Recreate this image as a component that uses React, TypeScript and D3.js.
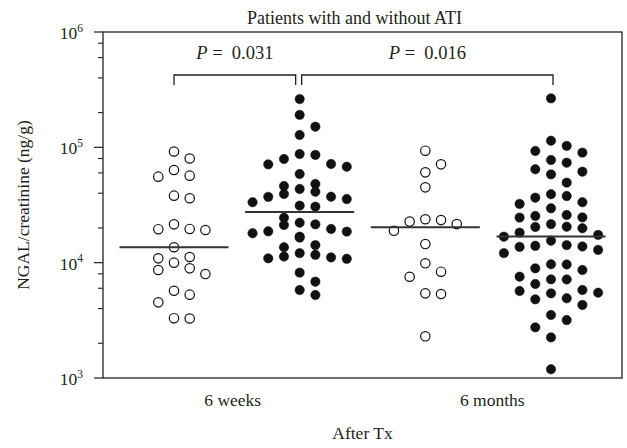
import React from 'react';
import * as d3 from 'd3';

// ---- data ----
const groupNames = ['6 weeks, without ATI', '6 weeks, with ATI', '6 months, without ATI', '6 months, with ATI'];
const groupFilled = [false, true, false, true];
const timepoints = ['6 weeks', '6 months'];

const weeks6NoAti = [92000, 80000, 63600, 55700, 56800, 38100, 36200, 19600, 19200, 19500, 21500, 13600,
  10900, 11200, 10000, 8930, 7970, 8640, 5710, 5280, 4530, 3300, 3280];
const weeks6Ati = [262000, 191000, 151000, 128000, 79200, 87500, 71200, 85900, 67900, 71700, 58700,
  43500, 39400, 48100, 37300, 31200, 35600, 37200, 30600, 41200, 33400, 46200, 24500, 22200,
  19600, 18600, 21500, 16800, 16500, 18000, 18700, 21200, 14200, 13600, 11100, 12100, 10900,
  11300, 11700, 10800, 8190, 6840, 5240, 5790];
const months6NoAti = [93500, 71200, 60700, 45000, 23800, 21600, 22700, 23400, 18900, 14500, 9870, 8350,
  7550, 5420, 5350, 2300];
const months6Ati = [266000, 114000, 103000, 89900, 92900, 77600, 73600, 61500, 58300, 64500, 49400,
  37800, 36600, 39200, 33400, 32300, 29600, 24700, 25400, 25900, 24600, 20500, 19900, 18200,
  20400, 21600, 17400, 16800, 15500, 14200, 12100, 13800, 12900, 13700, 14000, 8640, 9680, 8930,
  9650, 7560, 7170, 6530, 7150, 5680, 5420, 4810, 4300, 4910, 5490, 5790, 3520, 3180, 2750, 2250, 1190];
const groupValues = [weeks6NoAti, weeks6Ati, months6NoAti, months6Ati];
const medians = [13600, 27500, 20300, 16900];

const yMajorTicks = [1e3, 1e4, 1e5, 1e6];
const yMinorMultipliers = [2, 4, 6, 8];
const comparisons: [number, number][] = [[0, 1], [1, 3]];
const pValues = ['0.031', '0.016'];

const titleText = 'Patients with and without ATI';
const yTitle = 'NGAL/creatinine (ng/g)';
const xTitle = 'After Tx';

// ---- layout ----
const W = 627, H = 448;
const M = { left: 103, right: 622, top: 32, bottom: 378 };
const FONT = '"Liberation Serif", "Times New Roman", Times, serif';
const INK = '#231f20';

// row-based scatter layout (points of similar height spread sideways in fixed columns)
function swarm(values: number[], cx: number, y: (v: number) => number, step: number, rowH: number) {
  const items = values.map((v, i) => ({ i, y: y(v) })).sort((a, b) => a.y - b.y);
  const out: { x: number; y: number }[] = new Array(values.length);
  const offs = [0, 1, -1, 2, -2, 3, -3];
  let row: { i: number; y: number }[] = [];
  const flush = () => {
    row.forEach((p, k) => { out[p.i] = { x: cx + offs[k % offs.length] * step, y: p.y }; });
    row = [];
  };
  for (const it of items) {
    if (row.length && it.y - row[0].y >= rowH) flush();
    row.push(it);
  }
  flush();
  return out;
}

export default function App() {
  const y = d3.scaleLog().domain([1e3, 1e6]).range([M.bottom, M.top]);
  const x = d3.scalePoint<string>().domain(groupNames).range([M.left, M.right]).padding(0.565);
  const xCat = d3.scalePoint<string>().domain(timepoints).range([M.left, M.right]).padding(0.5);

  const minorTicks: number[] = [];
  for (let d = 1e3; d < 1e6; d *= 10) yMinorMultipliers.forEach(m => minorTicks.push(d * m));

  const r = 4.7;
  const bracketY = 75, legY = 85;

  return (
    <svg width={W} height={H} style={{ position: 'absolute', left: 0, top: 0, background: '#fff', fontFamily: FONT }}>
      <rect x={0} y={0} width={W} height={H} fill="#fff" />
      <text x={(M.left + M.right) / 2 - 8} y={24} textAnchor="middle" fontSize={18} fill={INK}>{titleText}</text>

      {/* frame */}
      <rect x={M.left} y={M.top} width={M.right - M.left} height={M.bottom - M.top} fill="none"
        stroke="#333" strokeWidth={1.4} />

      {/* y ticks */}
      {yMajorTicks.map((t, i) => (
        <g key={'mj' + i}>
          <line x1={M.left - 9} x2={M.left} y1={y(t)} y2={y(t)} stroke={INK} strokeWidth={1.2} />
          <text x={M.left - 20} y={y(t) + 7} textAnchor="end" fontSize={17.5} fill={INK}>
            10
            <tspan fontSize={11.5} dy={-7.5}>{String(Math.round(Math.log10(t)))}</tspan>
          </text>
        </g>
      ))}
      {minorTicks.map((t, i) => (
        <line key={'mn' + i} x1={M.left - 5} x2={M.left} y1={y(t)} y2={y(t)} stroke={INK} strokeWidth={1.1} />
      ))}

      {/* dots */}
      {groupValues.map((vals, g) => {
        const cx = x(groupNames[g]) as number;
        const pts = swarm(vals, cx, y, 15.7, 14);
        return (
          <g key={'g' + g}>
            {pts.map((p, i) => (
              <circle key={i} cx={p.x} cy={p.y} r={r}
                fill={groupFilled[g] ? '#111' : '#fff'} stroke="#111" strokeWidth={groupFilled[g] ? 0.5 : 1.2} />
            ))}
          </g>
        );
      })}

      {/* medians */}
      {medians.map((m, g) => {
        const cx = x(groupNames[g]) as number;
        return <line key={'md' + g} x1={cx - 54.5} x2={cx + 54.5} y1={y(m)} y2={y(m)} stroke="#333" strokeWidth={2} />;
      })}

      {/* significance brackets */}
      {comparisons.map(([a, b], i) => {
        const xa = (x(groupNames[a]) as number) + (i === 0 ? 0 : 2);
        const xb = (x(groupNames[b]) as number) + (i === 0 ? -4 : 2);
        return (
          <g key={'br' + i}>
            <path d={`M${xa},${legY}V${bracketY}H${xb}V${legY}`} fill="none" stroke={INK} strokeWidth={1.3} />
            <text x={(xa + xb) / 2} y={bracketY - 16} textAnchor="middle" fontSize={18.5} fill={INK}
              style={{ whiteSpace: 'pre' }}>
              <tspan fontStyle="italic">P</tspan>{' =  '}{pValues[i]}
            </text>
          </g>
        );
      })}

      {/* x category labels */}
      {timepoints.map((t, i) => (
        <text key={'c' + i} x={xCat(t) as number} y={406} textAnchor="middle" fontSize={17.5} fill={INK}>{t}</text>
      ))}
      <text x={(M.left + M.right) / 2} y={439} textAnchor="middle" fontSize={17.5} fill={INK}>{xTitle}</text>

      <text transform={`translate(29,${(M.top + M.bottom) / 2}) rotate(-90)`} textAnchor="middle" fontSize={17.5}
        fill={INK}>{yTitle}</text>
    </svg>
  );
}
